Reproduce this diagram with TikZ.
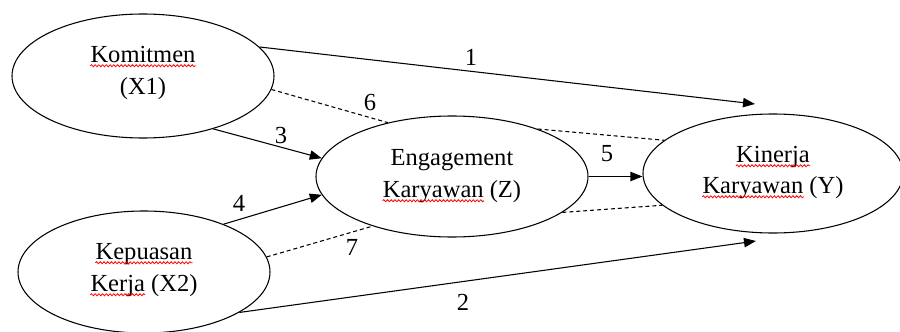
\documentclass[tikz,border=0pt]{standalone}
\usepackage{fontspec}
\setmainfont{Liberation Serif}
\usetikzlibrary{shapes.geometric,arrows.meta,decorations.pathmorphing}

\begin{document}
\begin{tikzpicture}[x=0.75pt,y=-0.75pt,
  construct/.style={draw, ellipse, line width=0.8pt, inner sep=0pt},
  txt/.style={font=\fontsize{18.4}{24}\selectfont, inner sep=0pt, anchor=base},
  ghost/.style={font=\fontsize{18.4}{24}\selectfont, inner sep=0pt, anchor=base west},
  num/.style={font=\fontsize{18.4}{24}\selectfont, inner sep=0pt},
  link/.style={draw, line width=0.8pt, -{Triangle[length=9pt,width=7pt]}},
  corr/.style={draw, line width=0.8pt, dash pattern=on 3pt off 2.2pt},
  spell/.style={draw=red, line width=0.6pt, decorate,
    decoration={snake, amplitude=0.75pt, segment length=2.8pt}}
]
\useasboundingbox (0,0) rectangle (900,332);

% latent constructs
\node[construct, minimum width=196.5pt, minimum height=93pt]    (x1) at (143,76) {};
\node[construct, minimum width=204pt,   minimum height=90.75pt] (z)  at (452,176.5) {};
\node[construct, minimum width=195pt,   minimum height=89.25pt] (y)  at (773,173.5) {};
\node[construct, minimum width=189pt,   minimum height=91.5pt]  (x2) at (144,272) {};

% construct names
\node[txt] (x1a) at (143,62)  {Komitmen};
\node[txt] (x1b) at (143,94)  {(X1)};
\node[txt] (za)  at (452,165) {Engagement};
\node[txt] (zb)  at (452,197) {Karyawan (Z)};
\node[txt] (ya)  at (773,162) {Kinerja};
\node[txt] (yb)  at (773,193) {Karyawan (Y)};
\node[txt] (x2a) at (144,259) {Kepuasan};
\node[txt] (x2b) at (144,291) {Kerja (X2)};

% spell-check marks under the Indonesian words
\node[ghost] (wz)  at (zb.base west)  {\phantom{Karyawan}};
\node[ghost] (wy)  at (yb.base west)  {\phantom{Karyawan}};
\node[ghost] (wx2) at (x2b.base west) {\phantom{Kerja}};
\draw[spell] ([yshift=-2.8pt]x1a.base west) -- ([yshift=-2.8pt]x1a.base east);
\draw[spell] ([yshift=-2.8pt]wz.base west)  -- ([yshift=-2.8pt]wz.base east);
\draw[spell] ([yshift=-2.8pt]ya.base west)  -- ([yshift=-2.8pt]ya.base east);
\draw[spell] ([yshift=-2.8pt]wy.base west)  -- ([yshift=-2.8pt]wy.base east);
\draw[spell] ([yshift=-2.8pt]x2a.base west) -- ([yshift=-2.8pt]x2a.base east);
\draw[spell] ([yshift=-2.8pt]wx2.base west) -- ([yshift=-2.8pt]wx2.base east);

% free ends of the direct paths
\coordinate (t1) at (755,104);
\coordinate (t2) at (756,241);

% direct and mediated paths
\draw[link] (x1.14)  -- (t1);
\draw[link] (x2.337) -- (t2);
\draw[link] (x1.323) -- (z.172);
\draw[link] (x2.31)  -- (z.188);
\draw[link] (z.east) -- (z.east -| y.west);

% indirect paths
\draw[corr] (x1.354) -- (z.140);
\draw[corr] (z.29)   -- (y.163);
\draw[corr] (z.342)  -- (y.196);
\draw[corr] (x2.7)   -- (z.212);

% path numbers
\node[num] (n1) at (471,57)  {1};
\node[num] (n2) at (463,302) {2};
\node[num] (n3) at (281,135) {3};
\node[num] (n4) at (239,203) {4};
\node[num] (n5) at (607,154) {5};
\node[num] (n6) at (370,102) {6};
\node[num] (n7) at (352,247) {7};
\end{tikzpicture}
\end{document}
